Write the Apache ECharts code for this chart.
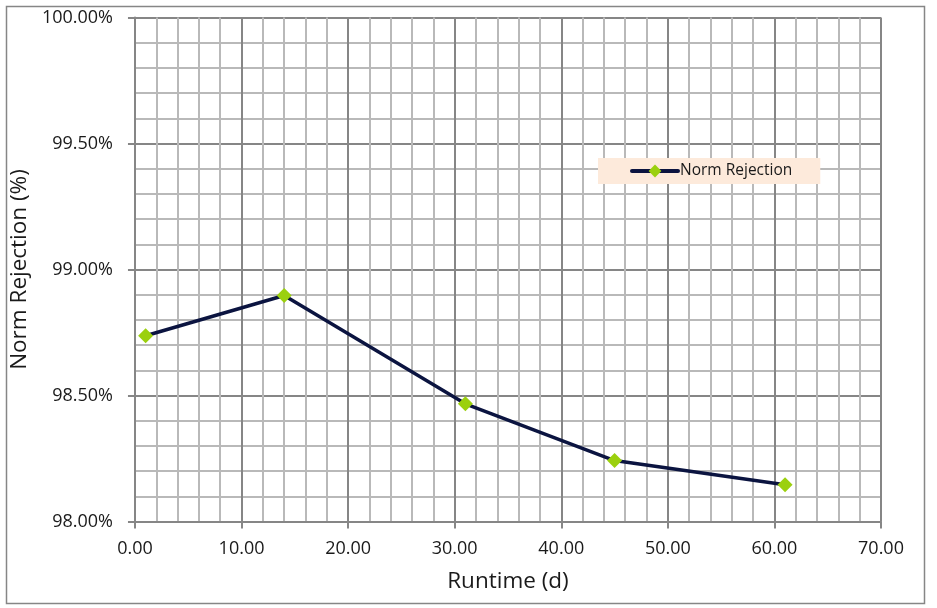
<!DOCTYPE html>
<html>
<head>
<meta charset="utf-8">
<script src="https://cdn.jsdelivr.net/npm/echarts@6/dist/echarts.min.js"></script>
<style>html,body{margin:0;padding:0;background:#fff}#c{width:937px;height:608px}</style>
</head>
<body>
<div id="c"></div>
<script>
const runtime = [1, 14, 31, 45, 61];
const rejection = [98.737, 98.897, 98.467, 98.242, 98.146];
const seriesName = 'Norm Rejection';
const xTitle = 'Runtime (d)';
const yTitle = 'Norm Rejection (%)';

const FONT = '"Open Sans", "Liberation Sans", sans-serif';
const chart = echarts.init(document.getElementById('c'), null, {renderer: 'canvas'});
chart.setOption({
  backgroundColor: '#ffffff',
  animation: false,
  textStyle: {fontFamily: FONT},
  graphic: [{
    type: 'rect', left: 4, top: 4, z: -10,
    shape: {x: 0, y: 0, width: 918, height: 597},
    style: {fill: 'none', stroke: '#868686', lineWidth: 1.5}
  }],
  grid: {left: 133, right: 56, top: 17.5, bottom: 86.5, containLabel: false},
  legend: {
    left: 598, top: 158,
    backgroundColor: '#fdeadb',
    padding: [5, 28, 5, 32],
    itemWidth: 46, itemHeight: 16, itemGap: 0,
    lineStyle: {width: 4, cap: 'round'},
    itemStyle: {borderWidth: 0},
    textStyle: {fontFamily: FONT, fontSize: 15.5, color: '#1a1a1a', padding: [0, 0, 0, -3]},
    data: [seriesName]
  },
  xAxis: {
    type: 'value', min: 0, max: 70, interval: 10,
    name: xTitle, nameLocation: 'middle', nameGap: 49,
    nameTextStyle: {fontFamily: FONT, fontSize: 22.5, color: '#1a1a1a'},
    axisLine: {show: true, onZero: false, lineStyle: {color: '#868686', width: 2}},
    axisTick: {show: true, length: 7, lineStyle: {color: '#868686', width: 2}},
    axisLabel: {fontFamily: FONT, fontSize: 18, color: '#1a1a1a', margin: 18, formatter: v => v.toFixed(2)},
    splitLine: {show: true, lineStyle: {color: '#868686', width: 2}},
    minorTick: {show: false, splitNumber: 5},
    minorSplitLine: {show: true, lineStyle: {color: '#b9b9b9', width: 2}}
  },
  yAxis: {
    type: 'value', min: 98, max: 100, interval: 0.5,
    name: yTitle, nameLocation: 'middle', nameGap: 96,
    nameTextStyle: {fontFamily: FONT, fontSize: 22.5, color: '#1a1a1a'},
    axisLine: {show: true, onZero: false, lineStyle: {color: '#868686', width: 2}},
    axisTick: {show: true, length: 7, lineStyle: {color: '#868686', width: 2}},
    axisLabel: {fontFamily: FONT, fontSize: 18, color: '#1a1a1a', margin: 22, formatter: v => v.toFixed(2) + '%'},
    splitLine: {show: true, lineStyle: {color: '#868686', width: 2}},
    minorTick: {show: false, splitNumber: 5},
    minorSplitLine: {show: true, lineStyle: {color: '#b9b9b9', width: 2}}
  },
  series: [{
    name: seriesName,
    type: 'line',
    data: runtime.map((x, i) => [x, rejection[i]]),
    smooth: false,
    symbol: 'diamond', symbolSize: 15,
    lineStyle: {color: '#0b1440', width: 3.5},
    itemStyle: {color: '#9bd00e', borderWidth: 0},
    z: 5
  }]
});
</script>
</body>
</html>
